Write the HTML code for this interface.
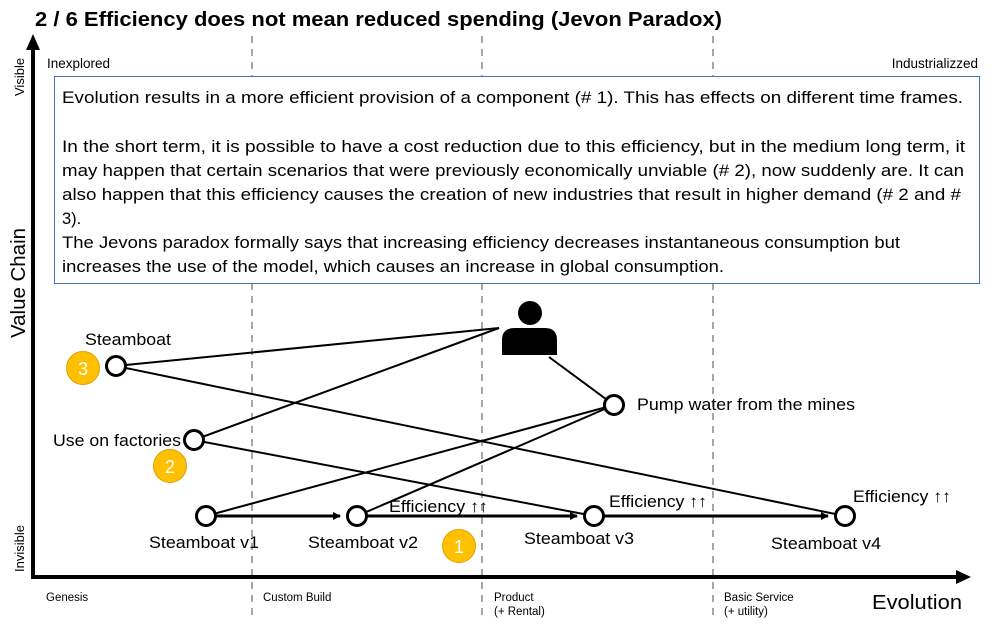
<!DOCTYPE html>
<html><head><meta charset="utf-8"><style>
html,body{margin:0;padding:0;background:#fff;}
svg{display:block;font-family:"Liberation Sans",sans-serif;}
</style></head><body>
<svg width="998" height="630" viewBox="0 0 998 630" xmlns="http://www.w3.org/2000/svg">
<defs>
<marker id="ah" markerWidth="8" markerHeight="8" refX="7" refY="4" orient="auto" markerUnits="userSpaceOnUse"><path d="M0,0 L8,4 L0,8 z" fill="#000"/></marker>
</defs>
<text x="35" y="26" font-size="20" font-weight="bold" textLength="687" lengthAdjust="spacingAndGlyphs">2 / 6 Efficiency does not mean reduced spending (Jevon Paradox)</text>
<g stroke="#a6a6a6" stroke-width="2" stroke-dasharray="7,6">
<line x1="252" y1="36" x2="252" y2="620"/><line x1="482" y1="36" x2="482" y2="620"/><line x1="713" y1="36" x2="713" y2="620"/>
</g>
<line x1="33" y1="578" x2="33" y2="48" stroke="#000" stroke-width="4"/>
<path d="M26,50 L33,34 L40,50 z"/>
<line x1="31" y1="577" x2="958" y2="577" stroke="#000" stroke-width="4"/>
<path d="M956,570 L971,577 L956,584 z"/>
<text x="47" y="68" font-size="13.5">Inexplored</text>
<text x="978" y="68" font-size="13.5" text-anchor="end">Industrializzed</text>
<text transform="translate(24,96) rotate(-90)" font-size="13">Visible</text>
<text transform="translate(24,572) rotate(-90)" font-size="13">Invisible</text>
<text transform="translate(25,338) rotate(-90)" font-size="20" textLength="110" lengthAdjust="spacingAndGlyphs">Value Chain</text>
<text x="46" y="601" font-size="11.5">Genesis</text>
<text x="263" y="601" font-size="11.5">Custom Build</text>
<text x="494" y="601" font-size="11.5">Product</text>
<text x="494" y="615" font-size="11.5">(+ Rental)</text>
<text x="724" y="601" font-size="11.5">Basic Service</text>
<text x="724" y="615" font-size="11.5">(+ utility)</text>
<text x="872" y="609" font-size="20" textLength="90" lengthAdjust="spacingAndGlyphs">Evolution</text>
<rect x="54.5" y="76.5" width="925" height="207" fill="#fff" stroke="#4472C4" stroke-width="1"/>
<g font-size="16.5" fill="#000">
<text x="62" y="103" textLength="901" lengthAdjust="spacingAndGlyphs">Evolution results in a more efficient provision of a component (# 1). This has effects on different time frames.</text>
<text x="62" y="152" textLength="903" lengthAdjust="spacingAndGlyphs">In the short term, it is possible to have a cost reduction due to this efficiency, but in the medium long term, it</text>
<text x="62" y="176" textLength="902" lengthAdjust="spacingAndGlyphs">may happen that certain scenarios that were previously economically unviable (# 2), now suddenly are. It can</text>
<text x="62" y="200" textLength="899" lengthAdjust="spacingAndGlyphs">also happen that this efficiency causes the creation of new industries that result in higher demand (# 2 and #</text>
<text x="62" y="224">3).</text>
<text x="62" y="248" textLength="838" lengthAdjust="spacingAndGlyphs">The Jevons paradox formally says that increasing efficiency decreases instantaneous consumption but</text>
<text x="62" y="272" textLength="662" lengthAdjust="spacingAndGlyphs">increases the use of the model, which causes an increase in global consumption.</text>
</g>
<g stroke="#000" stroke-width="2" fill="none">
<line x1="116" y1="366" x2="499" y2="328"/>
<line x1="194" y1="440" x2="499" y2="328"/>
<line x1="116" y1="366" x2="845" y2="516"/>
<line x1="194" y1="440" x2="594" y2="516"/>
<line x1="206" y1="516" x2="614" y2="405"/>
<line x1="357" y1="516" x2="614" y2="405"/>
<line x1="549" y1="357" x2="614" y2="405"/>
</g>
<g stroke="#000" stroke-width="3">
<line x1="216" y1="516" x2="340" y2="516" marker-end="url(#ah)"/>
<line x1="367" y1="516" x2="577" y2="516" marker-end="url(#ah)"/>
<line x1="604" y1="516" x2="828" y2="516" marker-end="url(#ah)"/>
</g>
<circle cx="530" cy="313" r="12"/>
<path d="M502,355 L502,340 Q502,328 515,328 L545,328 Q557,328 557,340 L557,355 z"/>
<g fill="#fff" stroke="#000" stroke-width="3">
<circle cx="116" cy="366" r="9.5"/><circle cx="194" cy="440" r="9.5"/>
<circle cx="206" cy="516" r="9.5"/><circle cx="357" cy="516" r="9.5"/>
<circle cx="594" cy="516" r="9.5"/><circle cx="845" cy="516" r="9.5"/>
<circle cx="614" cy="405" r="9.5"/>
</g>
<g fill="#FFC000" stroke="#d9a300" stroke-width="1">
<circle cx="83" cy="368" r="16.5"/><circle cx="170" cy="466" r="16.5"/><circle cx="459" cy="546" r="16.5"/>
</g>
<g fill="#fff" font-size="18" text-anchor="middle">
<text x="83" y="375">3</text><text x="170" y="473">2</text><text x="459" y="553">1</text>
</g>
<g font-size="17" fill="#000" lengthAdjust="spacingAndGlyphs">
<text x="85" y="345" textLength="86" lengthAdjust="spacingAndGlyphs">Steamboat</text>
<text x="53" y="446" textLength="128" lengthAdjust="spacingAndGlyphs">Use on factories</text>
<text x="637" y="410" textLength="218" lengthAdjust="spacingAndGlyphs">Pump water from the mines</text>
<text x="149" y="548" textLength="110" lengthAdjust="spacingAndGlyphs">Steamboat v1</text>
<text x="308" y="548" textLength="110" lengthAdjust="spacingAndGlyphs">Steamboat v2</text>
<text x="524" y="544" textLength="110" lengthAdjust="spacingAndGlyphs">Steamboat v3</text>
<text x="771" y="549" textLength="110" lengthAdjust="spacingAndGlyphs">Steamboat v4</text>
<text x="389" y="512" textLength="99" lengthAdjust="spacingAndGlyphs">Efficiency ↑↑</text>
<text x="609" y="507" textLength="98" lengthAdjust="spacingAndGlyphs">Efficiency ↑↑</text>
<text x="853" y="502" textLength="98" lengthAdjust="spacingAndGlyphs">Efficiency ↑↑</text>
</g>
</svg>
</body></html>
